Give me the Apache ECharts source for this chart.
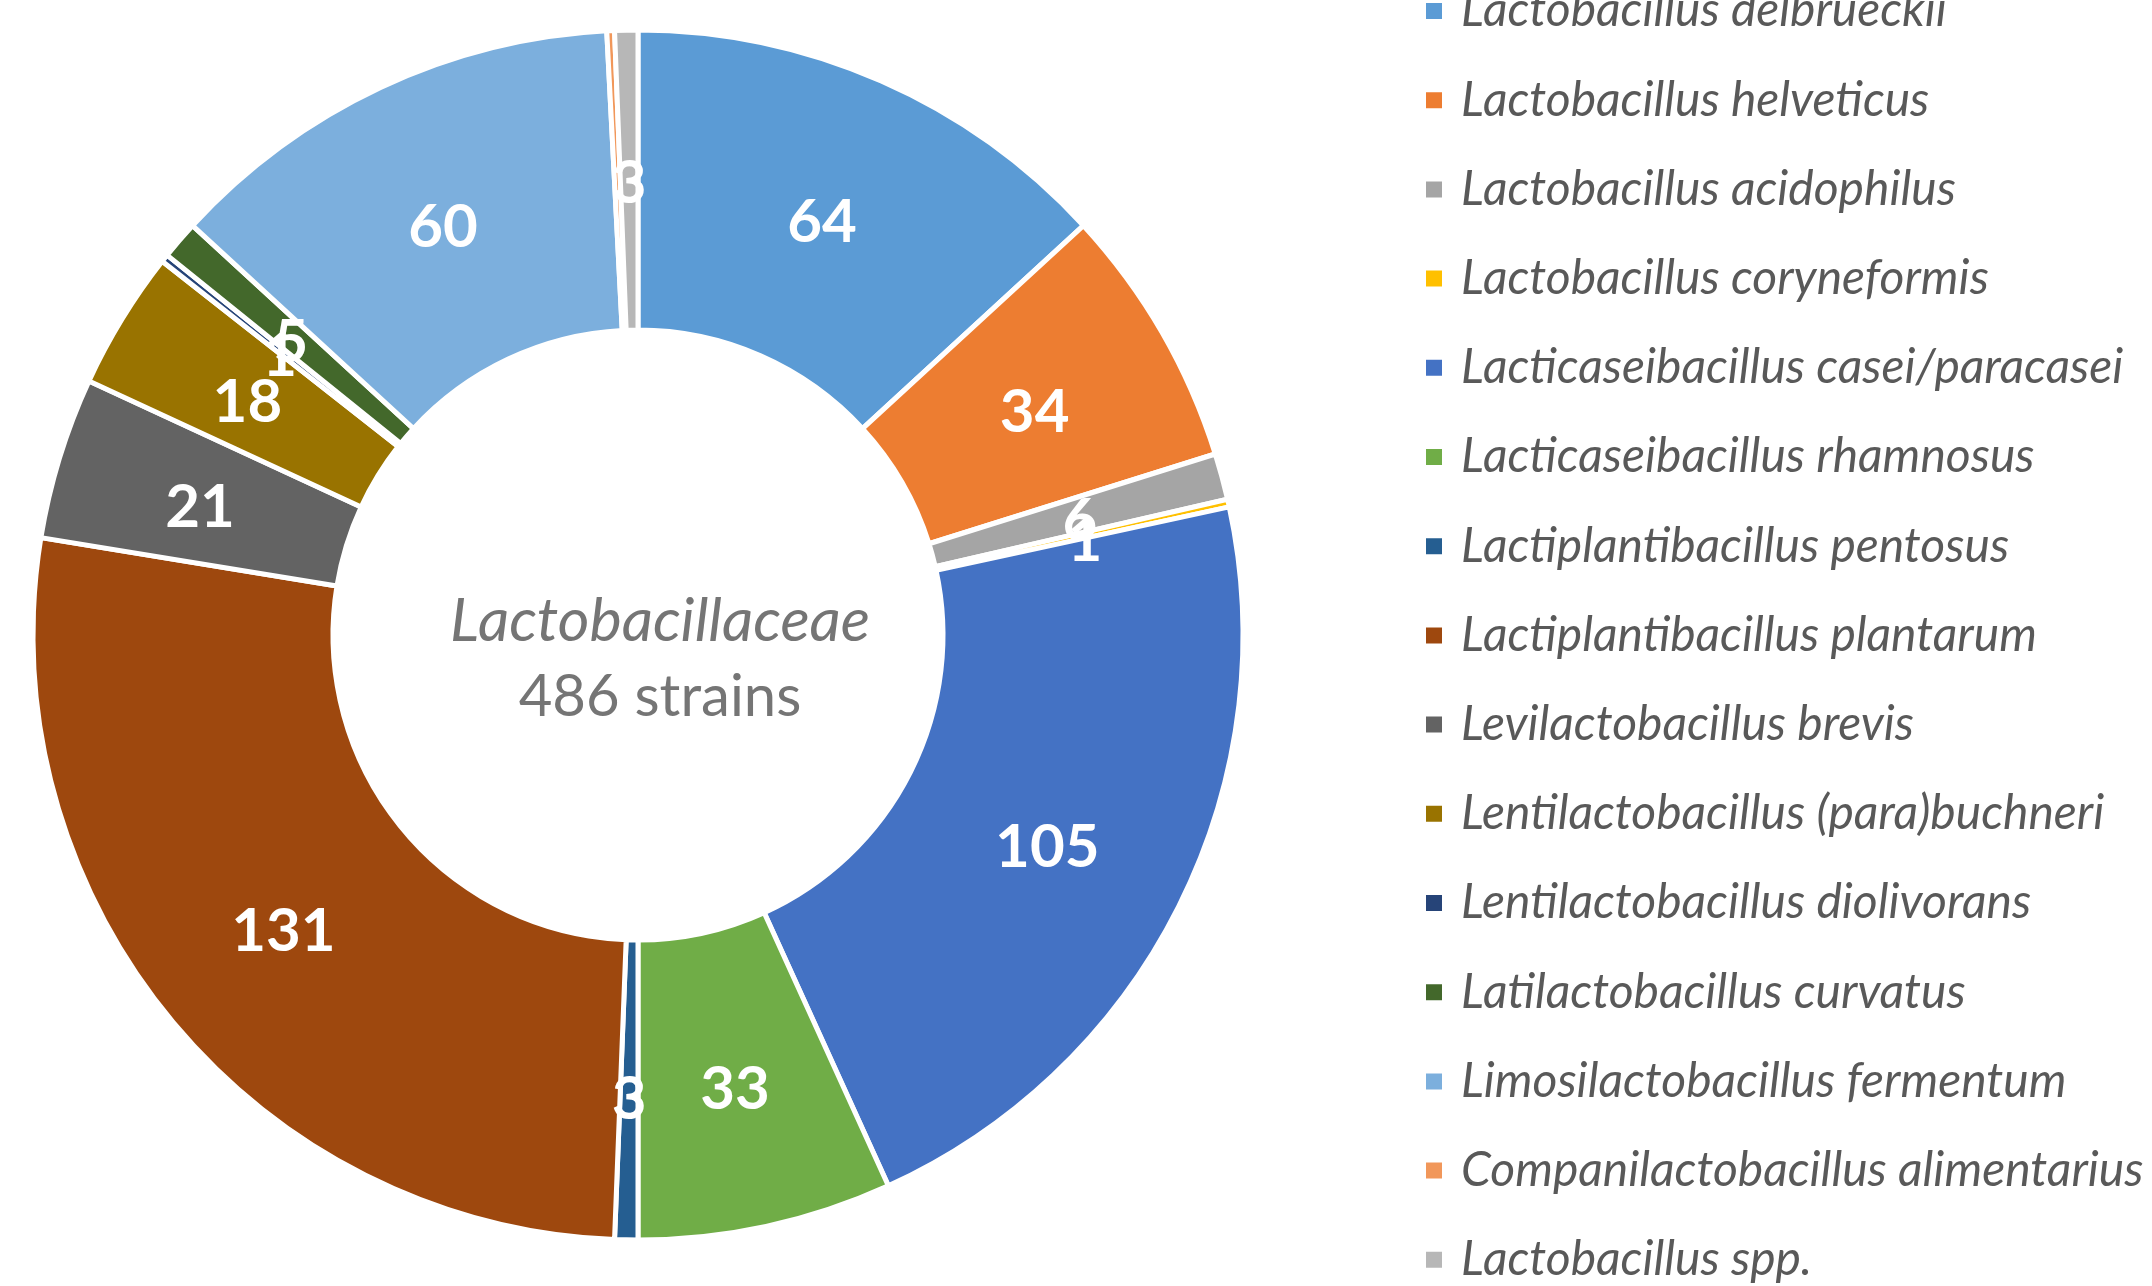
<!DOCTYPE html>
<html>
<head>
<meta charset="utf-8">
<script src="https://cdn.jsdelivr.net/npm/echarts@6/dist/echarts.min.js"></script>
<style>
html,body{margin:0;padding:0;background:#fff;}
#chart{width:2152px;height:1286px;}
</style>
</head>
<body>
<div id="chart"></div>
<script>
const categories = [
  "Lactobacillus delbrueckii",
  "Lactobacillus helveticus",
  "Lactobacillus acidophilus",
  "Lactobacillus coryneformis",
  "Lacticaseibacillus casei/paracasei",
  "Lacticaseibacillus rhamnosus",
  "Lactiplantibacillus pentosus",
  "Lactiplantibacillus plantarum",
  "Levilactobacillus brevis",
  "Lentilactobacillus (para)buchneri",
  "Lentilactobacillus diolivorans",
  "Latilactobacillus curvatus",
  "Limosilactobacillus fermentum",
  "Companilactobacillus alimentarius",
  "Lactobacillus spp."
];
const values = [64, 34, 6, 1, 105, 33, 3, 131, 21, 18, 1, 5, 60, 1, 3];
const colors = ["#5B9BD5","#ED7D31","#A5A5A5","#FFC000","#4472C4","#70AD47","#255E91","#9E480E","#636363","#997300","#264478","#43682B","#7CAFDD","#F1975A","#B7B7B7"];
const centerTitle = "Lactobacillaceae";
const centerSub = "486 strains";
const hiddenLabel = "Companilactobacillus alimentarius";

const FONT = "Lato";
const CENTER = [638, 635];
const RADIUS = [305, 605];

const sectorData = categories.map((name, i) => ({
  name: name, value: values[i], itemStyle: { color: colors[i] }
}));
const labelData = categories.map((name, i) => {
  const item = { name: name + ' ', value: values[i] };
  if (name === hiddenLabel) item.label = { show: false };
  return item;
});

const chart = echarts.init(document.getElementById('chart'), null, { renderer: 'canvas' });
chart.setOption({
  backgroundColor: '#ffffff',
  animation: false,
  legend: {
    orient: 'vertical',
    left: 1424,
    top: -14,
    height: 1400,
    padding: 0,
    itemWidth: 18,
    itemHeight: 18,
    itemGap: 39.2,
    icon: 'rect',
    data: categories,
    selectedMode: false,
    textStyle: {
      fontFamily: FONT,
      fontStyle: 'italic',
      fontSize: 48,
      lineHeight: 50,
      color: '#595959',
      padding: [0, 0, 0, 13]
    }
  },
  graphic: [
    { type: 'text', x: 660, y: 621, style: { text: centerTitle, fontFamily: FONT, fontStyle: 'italic', fontSize: 61, fill: '#757575', align: 'center', verticalAlign: 'middle' } },
    { type: 'text', x: 660, y: 697, style: { text: centerSub, fontFamily: FONT, fontSize: 58, fill: '#757575', align: 'center', verticalAlign: 'middle' } }
  ],
  series: [{
    type: 'pie',
    z: 2,
    center: CENTER,
    radius: RADIUS,
    startAngle: 90,
    clockwise: true,
    itemStyle: { borderColor: '#ffffff', borderWidth: 5 },
    label: { show: false },
    labelLine: { show: false },
    emphasis: { disabled: true },
    data: sectorData
  }, {
    type: 'pie',
    z: 5,
    silent: true,
    center: CENTER,
    radius: RADIUS,
    startAngle: 90,
    clockwise: true,
    avoidLabelOverlap: false,
    minShowLabelAngle: 0,
    itemStyle: { color: 'rgba(0,0,0,0)', borderWidth: 0 },
    labelLayout: { hideOverlap: false, dy: 7 },
    label: {
      show: true,
      position: 'inside',
      formatter: '{c}',
      fontFamily: FONT,
      fontWeight: 'bold',
      fontSize: 60,
      color: '#ffffff',
      overflow: 'none'
    },
    labelLine: { show: false },
    emphasis: { disabled: true },
    data: labelData
  }]
});
</script>
</body>
</html>
